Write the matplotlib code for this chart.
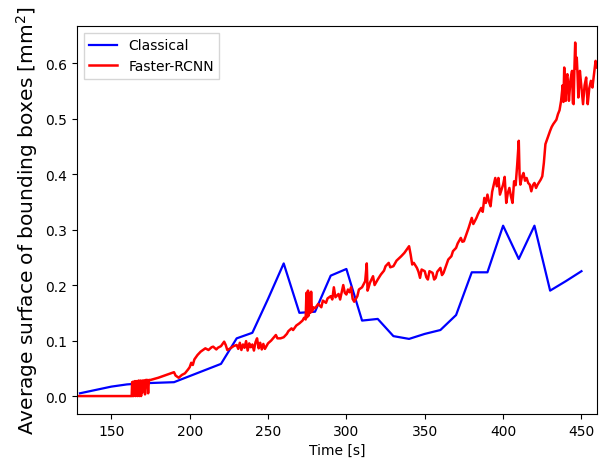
import matplotlib
matplotlib.use('Agg')
import matplotlib.pyplot as plt

# Classical detector, one point every 10 s
classical_t = [130, 150, 160, 170, 190, 200, 220, 230, 240, 250, 260, 270, 280, 290,
               300, 310, 320, 330, 340, 350, 360, 370, 380, 390, 400, 410, 420, 430,
               440, 450]
classical_s = [0.005, 0.017, 0.021, 0.023, 0.025, 0.036, 0.058, 0.104, 0.114, 0.175,
               0.239, 0.150, 0.152, 0.217, 0.229, 0.136, 0.139, 0.108, 0.103, 0.112,
               0.119, 0.146, 0.223, 0.223, 0.307, 0.247, 0.307, 0.190, 0.207, 0.225]

# Faster-RCNN
rcnn_t = [128, 140, 150, 160, 163, 163.3, 163.6, 163.9, 164.2, 164.5, 164.8, 165.1,
          165.4, 165.7, 166, 166.3, 166.6, 166.9, 167.2, 167.5, 167.8, 168.1, 168.4,
          168.7, 169, 169.3, 169.6, 170, 171, 171.5, 172, 173, 173.5, 174, 175, 180,
          185, 190, 191, 193, 195, 197, 199, 200, 201, 202, 203, 205, 207, 210, 212,
          214, 215, 217, 218, 220, 222, 223, 224, 226, 228, 230, 231, 232, 233, 234,
          235, 236, 237, 238, 239, 240, 241, 242, 243, 244, 245, 246, 247, 248, 250,
          252, 255, 256, 258, 260, 262, 263, 265, 266, 268, 270, 272, 273, 274, 274.5,
          275, 275.5, 276, 276.5, 277, 277.5, 278, 279, 280, 282, 284, 285, 287, 288,
          290, 291, 292, 293, 295, 296, 298, 299, 300, 301, 302, 303, 304, 305, 307,
          308, 310, 312, 313, 313.5, 314, 315, 317, 318, 320, 322, 324, 325, 327, 328,
          330, 332, 335, 337, 340, 341, 342, 343, 345, 346, 347, 348, 350, 351, 352,
          353, 355, 356, 357, 358, 360, 361, 362, 364, 365, 367, 368, 370, 371, 373,
          374, 375, 377, 378, 380, 381, 383, 384, 386, 387, 388, 389, 390, 391, 392,
          393, 395, 396, 397, 398, 399, 400, 401, 402, 403, 404, 405, 406, 407, 408,
          409, 409.5, 410, 410.5, 411, 412, 413, 414, 415, 416, 417, 418, 419, 420,
          421, 422, 424, 425, 426, 427, 428, 430, 431, 432, 434, 435, 436, 437, 438,
          438.5, 439, 439.5, 440, 440.5, 441, 441.5, 442, 443, 444, 444.5, 445, 445.5,
          446, 446.5, 447, 447.5, 448, 448.5, 449, 450, 450.5, 451, 452, 453, 453.5,
          454, 455, 456, 457, 458, 459, 460]
rcnn_s = [0.0, 0.0, 0.0, 0.0, 0.0, 0.025, 0.0, 0.026, 0.0, 0.025, 0.002, 0.027,
          0.0, 0.026, 0.003, 0.027, 0.0, 0.027, 0.004, 0.028, 0.0, 0.026, 0.005,
          0.028, 0.0, 0.027, 0.006, 0.028, 0.028, 0.003, 0.029, 0.029, 0.005, 0.029,
          0.029, 0.033, 0.038, 0.043, 0.037, 0.033, 0.038, 0.041, 0.048, 0.052,
          0.060, 0.056, 0.066, 0.074, 0.080, 0.086, 0.083, 0.088, 0.089, 0.084,
          0.087, 0.090, 0.098, 0.092, 0.083, 0.086, 0.090, 0.092, 0.085, 0.096,
          0.083, 0.093, 0.087, 0.099, 0.082, 0.095, 0.088, 0.093, 0.082, 0.097,
          0.104, 0.086, 0.096, 0.084, 0.094, 0.085, 0.095, 0.100, 0.110, 0.104,
          0.104, 0.106, 0.112, 0.117, 0.122, 0.119, 0.127, 0.131, 0.136, 0.141,
          0.138, 0.186, 0.142, 0.190, 0.145, 0.185, 0.150, 0.188, 0.152, 0.160,
          0.158, 0.166, 0.160, 0.172, 0.168, 0.176, 0.180, 0.174, 0.196, 0.178,
          0.184, 0.174, 0.200, 0.186, 0.183, 0.192, 0.187, 0.196, 0.175, 0.170,
          0.180, 0.192, 0.196, 0.207, 0.239, 0.190, 0.194, 0.204, 0.216, 0.200,
          0.210, 0.219, 0.226, 0.234, 0.240, 0.232, 0.234, 0.244, 0.252, 0.258,
          0.270, 0.255, 0.237, 0.240, 0.231, 0.224, 0.213, 0.228, 0.225, 0.214,
          0.210, 0.225, 0.222, 0.210, 0.213, 0.224, 0.231, 0.218, 0.222, 0.238,
          0.246, 0.252, 0.261, 0.267, 0.275, 0.285, 0.278, 0.279, 0.295, 0.303,
          0.321, 0.310, 0.321, 0.328, 0.339, 0.332, 0.357, 0.348, 0.363, 0.350,
          0.342, 0.368, 0.393, 0.378, 0.393, 0.363, 0.372, 0.381, 0.395, 0.348,
          0.366, 0.375, 0.360, 0.348, 0.387, 0.380, 0.417, 0.440, 0.460, 0.400,
          0.381, 0.395, 0.402, 0.388, 0.393, 0.384, 0.381, 0.369, 0.380, 0.384,
          0.375, 0.381, 0.390, 0.396, 0.420, 0.454, 0.462, 0.478, 0.485, 0.490,
          0.498, 0.508, 0.515, 0.532, 0.560, 0.530, 0.592, 0.540, 0.532, 0.575,
          0.580, 0.560, 0.532, 0.570, 0.586, 0.528, 0.526, 0.590, 0.637, 0.590,
          0.610, 0.580, 0.538, 0.560, 0.586, 0.556, 0.540, 0.526, 0.560, 0.574,
          0.545, 0.526, 0.555, 0.568, 0.556, 0.580, 0.604, 0.592]

fig = plt.figure(figsize=(6.05, 4.64), dpi=100)
ax = fig.add_axes([0.127, 0.106, 0.86, 0.836])
ax.plot(classical_t, classical_s, color='blue', lw=1.6, label='Classical')
ax.plot(rcnn_t, rcnn_s, color='red', lw=1.8, label='Faster-RCNN')
ax.set_xlim(128, 460)
ax.set_ylim(-0.032, 0.667)
ax.set_xlabel('Time [s]')
ax.set_ylabel('Average surface of bounding boxes [mm$^2$]', fontsize=14.5)
ax.legend(loc='upper left', fancybox=False, edgecolor='#cccccc')
fig.savefig('out.png')
